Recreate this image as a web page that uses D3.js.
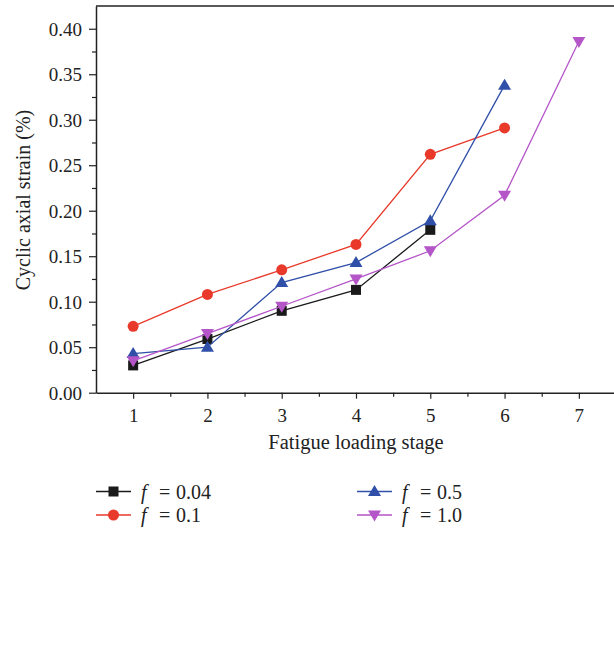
<!DOCTYPE html>
<html><head><meta charset="utf-8">
<script src="https://cdn.jsdelivr.net/npm/d3@7"></script>
<style>body{margin:0;background:#fff}text{font-family:"Liberation Serif","DejaVu Serif",serif;fill:#222}</style>
</head><body><svg id="c" width="614" height="654"></svg>
<script>
const stages = [1,2,3,4,5,6,7];
const xTicks = [1,2,3,4,5,6,7];
const yTicks = [0,0.05,0.10,0.15,0.20,0.25,0.30,0.35,0.40];
const s004 = [0.030,0.059,0.090,0.113,0.179];
const s01  = [0.073,0.108,0.135,0.163,0.262,0.291];
const s05  = [0.043,0.050,0.121,0.143,0.189,0.338];
const s10  = [0.035,0.065,0.095,0.125,0.156,0.217,0.386];
const labels = ["0.04","0.1","0.5","1.0"];
const colors = ["#1a1a1a","#e8392a","#2f4fa8","#b455c8"];
const shapes = ["square","circle","up","down"];

const svg = d3.select("#c");
const x = d3.scaleLinear().domain([0.5,7.5]).range([96,616]);
const y = d3.scaleLinear().domain([0,0.425]).range([392.7,6]);

svg.append("line").attr("x1",96).attr("x2",614).attr("y1",6).attr("y2",6).attr("stroke","#222").attr("stroke-width",1.5);

const gx = svg.append("g").attr("transform","translate(0,392.7)");
gx.call(d3.axisBottom(x).tickValues(xTicks).tickSize(6).tickSizeOuter(0).tickFormat(d3.format("d")));
gx.append("g").call(d3.axisBottom(x).tickValues([1.5,2.5,3.5,4.5,5.5,6.5,7.5]).tickSize(4).tickFormat("")).select(".domain").remove();
const gy = svg.append("g").attr("transform","translate(96,0)");
gy.call(d3.axisLeft(y).tickValues(yTicks).tickSize(7).tickSizeOuter(0).tickFormat(d3.format(".2f")));
gy.append("g").call(d3.axisLeft(y).tickValues([0.025,0.075,0.125,0.175,0.225,0.275,0.325,0.375]).tickSize(4).tickFormat("")).select(".domain").remove();
svg.selectAll(".domain").attr("stroke","#222").attr("stroke-width",1.5);
svg.selectAll(".tick line").attr("stroke","#222").attr("stroke-width",1.2);
svg.selectAll(".tick text").style("font-family","'Liberation Serif',serif").style("font-size","19px").attr("fill","#222");
gx.selectAll(".tick text").attr("dy","1.05em");
gy.selectAll(".tick text").attr("x",-14).attr("dy","0.35em");

svg.append("text").attr("x",356).attr("y",449).attr("text-anchor","middle").style("font-size","20.5px").text("Fatigue loading stage");
svg.append("text").attr("transform","translate(30,200) rotate(-90)").attr("text-anchor","middle").style("font-size","20px").text("Cyclic axial strain (%)");

function marker(g, shape, color, cx, cy){
  if(shape==="square") g.append("rect").attr("x",cx-5).attr("y",cy-5).attr("width",10).attr("height",10).attr("fill",color);
  else if(shape==="circle") g.append("circle").attr("cx",cx).attr("cy",cy).attr("r",5.5).attr("fill",color);
  else if(shape==="up") g.append("path").attr("d",`M${cx},${cy-6.5}L${cx+6.5},${cy+4.5}L${cx-6.5},${cy+4.5}Z`).attr("fill",color);
  else g.append("path").attr("d",`M${cx},${cy+6.5}L${cx+6.5},${cy-4.5}L${cx-6.5},${cy-4.5}Z`).attr("fill",color);
}

const series = [s004,s01,s05,s10];
const line = d3.line().x((d,i)=>x(stages[i])).y(d=>y(d));
series.forEach((s,k)=>{
  const g = svg.append("g");
  g.append("path").attr("d",line(s)).attr("fill","none").attr("stroke",colors[k]).attr("stroke-width",1.3);
  s.forEach((v,i)=>marker(g,shapes[k],colors[k],x(stages[i]),y(v)));
});

const legPos = [[96,491.5],[96,515],[357,491.5],[357,515]];
labels.forEach((l,k)=>{
  const [lx,ly] = legPos[k];
  const g = svg.append("g");
  g.append("line").attr("x1",lx).attr("x2",lx+35).attr("y1",ly).attr("y2",ly).attr("stroke",colors[k]).attr("stroke-width",1.3);
  marker(g,shapes[k],colors[k],lx+17.5,ly);
  g.append("text").attr("x",lx+45).attr("y",ly+7).style("font-size","20px").style("font-style","italic").text("f");
  g.append("text").attr("x",lx+63).attr("y",ly+7).style("font-size","20px").text("=");
  g.append("text").attr("x",lx+80).attr("y",ly+7).style("font-size","20px").text(l);
});
</script></body></html>
